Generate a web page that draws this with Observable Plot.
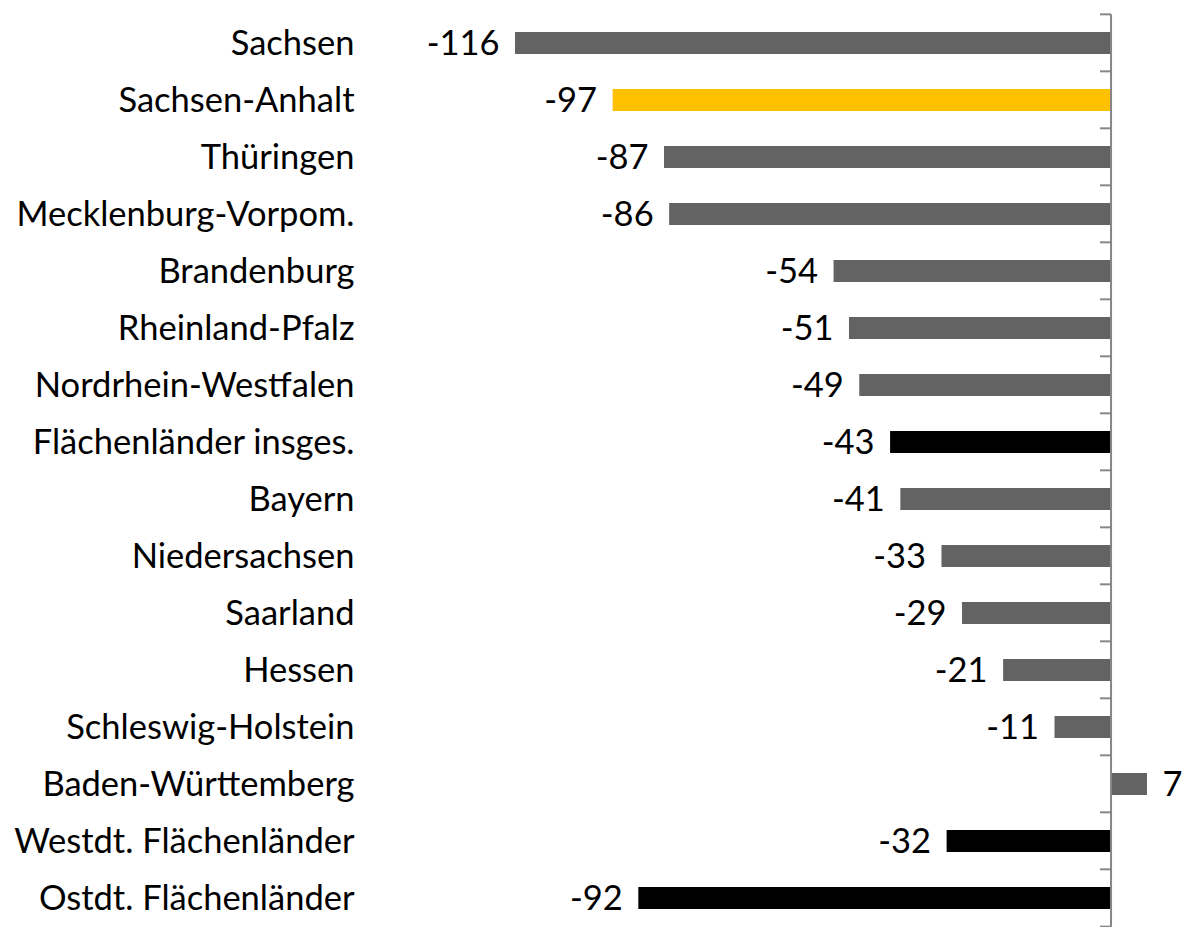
<!DOCTYPE html>
<html>
<head>
<meta charset="utf-8">
<script src="https://cdn.jsdelivr.net/npm/d3@7"></script>
<script src="https://cdn.jsdelivr.net/npm/@observablehq/plot@0.6"></script>
<style>
  html, body { margin: 0; padding: 0; background: #fff; }
  #chart svg { display: block; }
</style>
</head>
<body>
<div id="chart"></div>
<script>
const categories = [
  "Sachsen", "Sachsen-Anhalt", "Thüringen", "Mecklenburg-Vorpom.", "Brandenburg",
  "Rheinland-Pfalz", "Nordrhein-Westfalen", "Flächenländer insges.", "Bayern",
  "Niedersachsen", "Saarland", "Hessen", "Schleswig-Holstein", "Baden-Württemberg",
  "Westdt. Flächenländer", "Ostdt. Flächenländer"
];
const values = [-116, -97, -87, -86, -54, -51, -49, -43, -41, -33, -29, -21, -11, 7, -32, -92];
const groups = [
  "state", "highlight", "state", "state", "state",
  "state", "state", "aggregate", "state",
  "state", "state", "state", "state", "state",
  "aggregate", "aggregate"
];
const groupNames = ["state", "highlight", "aggregate"];
const groupColors = ["#636363", "#FFC000", "#000000"];

const data = categories.map((name, i) => ({name, value: values[i], group: groups[i]}));

const font = "Lato, 'Open Sans', sans-serif";
const fs = 34.5;
const yRange = [11.7, 929];
const step = (yRange[1] - yRange[0]) / categories.length;

const chart = Plot.plot({
  width: 1182,
  height: 927,
  marginLeft: 515,
  marginRight: 35,
  marginTop: 0,
  marginBottom: 0,
  style: {fontFamily: font, background: "#fff"},
  x: {domain: [-116, 7], axis: null},
  y: {domain: categories, range: yRange, type: "band", paddingInner: 0.62, paddingOuter: 0.31, axis: null},
  color: {domain: groupNames, range: groupColors},
  marks: [
    Plot.barX(data, {y: "name", x1: 0, x2: "value", fill: "group"}),
    Plot.text(data.filter(d => d.value < 0), {y: "name", x: "value", text: d => String(d.value), textAnchor: "end", dx: -16, fontSize: fs, fill: "#000"}),
    Plot.text(data.filter(d => d.value >= 0), {y: "name", x: "value", text: d => String(d.value), textAnchor: "start", dx: 15, fontSize: fs, fill: "#000"}),
    Plot.text(data, {y: "name", text: "name", frameAnchor: "left", textAnchor: "end", dx: -161, fontSize: fs, fill: "#000"})
  ]
});

// Value axis line and tick marks at band boundaries, positioned from the plot's scales
const xs = chart.scale("x");
const ys = chart.scale("y");
const svg = d3.select(chart);
const x0 = xs.apply(0);
const bw = ys.bandwidth !== undefined ? ys.bandwidth : 0;
const boundaries = categories.map(c => ys.apply(c) + bw / 2 - step / 2);
boundaries.push(boundaries[boundaries.length - 1] + step);
const g = svg.append("g").attr("stroke", "#868686").attr("stroke-width", 2);
g.append("line")
  .attr("x1", x0).attr("x2", x0)
  .attr("y1", boundaries[0]).attr("y2", boundaries[boundaries.length - 1]);
g.selectAll("line.tick")
  .data(boundaries)
  .join("line")
  .attr("class", "tick")
  .attr("x1", x0 - 11)
  .attr("x2", x0)
  .attr("y1", d => d)
  .attr("y2", d => d);

document.getElementById("chart").appendChild(chart);
</script>
</body>
</html>
